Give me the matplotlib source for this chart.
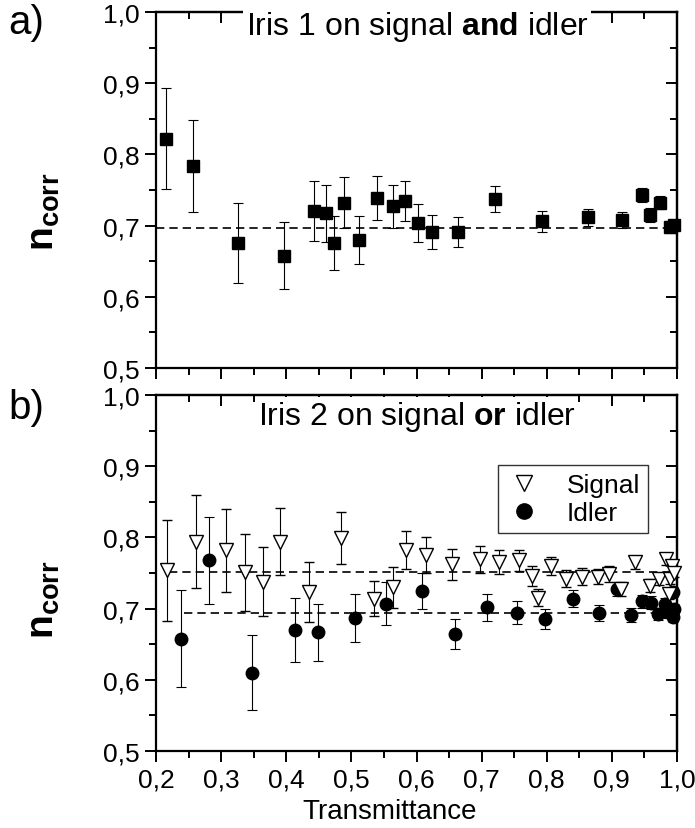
import matplotlib
matplotlib.use("Agg")
import matplotlib.pyplot as plt
from matplotlib.ticker import MultipleLocator, FuncFormatter
from matplotlib.lines import Line2D

plt.rcParams['font.family'] = ['Liberation Sans', 'DejaVu Sans']
plt.rcParams['mathtext.fontset'] = 'custom'
plt.rcParams['mathtext.rm'] = 'Liberation Sans'
plt.rcParams['mathtext.bf'] = 'Liberation Sans:bold'

# ---- a) iris 1 on signal and idler ----
T_a = [0.215, 0.257, 0.326, 0.397, 0.442, 0.461, 0.474, 0.488, 0.511, 0.540, 0.564, 0.582,
       0.602, 0.624, 0.663, 0.720, 0.793, 0.863, 0.916, 0.946, 0.959, 0.974, 0.990, 0.996]
n_a = [0.822, 0.784, 0.676, 0.658, 0.720, 0.717, 0.675, 0.732, 0.680, 0.739, 0.727, 0.734,
       0.704, 0.691, 0.691, 0.737, 0.706, 0.712, 0.708, 0.743, 0.715, 0.732, 0.698, 0.701]
err_a = [0.071, 0.065, 0.056, 0.047, 0.042, 0.040, 0.038, 0.036, 0.034, 0.031, 0.030, 0.028,
         0.027, 0.024, 0.021, 0.018, 0.015, 0.012, 0.011, 0.010, 0.010, 0.009, 0.008, 0.007]
fit_a = [0.2, 1.0, 0.696]   # x start, x end, level

# ---- b) iris 2 on signal or idler ----
T_s = [0.217, 0.261, 0.308, 0.337, 0.365, 0.391, 0.435, 0.484, 0.535, 0.564, 0.584, 0.615,
       0.655, 0.697, 0.727, 0.758, 0.778, 0.786, 0.806, 0.830, 0.854, 0.878, 0.896, 0.914,
       0.936, 0.958, 0.973, 0.983, 0.987, 0.989, 0.992, 0.995]
n_s = [0.754, 0.794, 0.782, 0.751, 0.738, 0.794, 0.723, 0.799, 0.714, 0.730, 0.782, 0.775,
       0.762, 0.769, 0.765, 0.768, 0.746, 0.715, 0.760, 0.742, 0.745, 0.745, 0.749, 0.727,
       0.765, 0.732, 0.741, 0.769, 0.721, 0.742, 0.760, 0.750]
err_s = [0.071, 0.065, 0.058, 0.054, 0.049, 0.047, 0.042, 0.037, 0.025, 0.029, 0.027, 0.025,
         0.022, 0.019, 0.017, 0.015, 0.014, 0.012, 0.013, 0.012, 0.012, 0.011, 0.011, 0.010,
         0.009, 0.009, 0.008, 0.008, 0.008, 0.007, 0.007, 0.006]
T_i = [0.239, 0.282, 0.347, 0.414, 0.449, 0.505, 0.553, 0.608, 0.659, 0.708, 0.755, 0.797,
       0.841, 0.880, 0.908, 0.930, 0.946, 0.960, 0.971, 0.982, 0.986, 0.994, 0.994, 0.996]
n_i = [0.658, 0.768, 0.610, 0.670, 0.667, 0.687, 0.707, 0.725, 0.664, 0.702, 0.694, 0.685,
       0.714, 0.694, 0.727, 0.691, 0.710, 0.708, 0.692, 0.707, 0.695, 0.723, 0.688, 0.700]
err_i = [0.068, 0.061, 0.053, 0.045, 0.040, 0.034, 0.030, 0.025, 0.021, 0.019, 0.016, 0.014,
         0.012, 0.011, 0.010, 0.010, 0.009, 0.009, 0.008, 0.008, 0.008, 0.007, 0.007, 0.007]
fit_s = [0.22, 1.0, 0.752]
fit_i = [0.243, 1.0, 0.694]

comma = FuncFormatter(lambda v, p: ('%.1f' % v).replace('.', ','))


def set_ax(ax, xlabels):
    ax.set_xlim(0.2, 1.0)
    ax.set_ylim(0.5, 1.0)
    for s in ax.spines.values():
        s.set_linewidth(1.6)
    ax.xaxis.set_major_locator(MultipleLocator(0.1))
    ax.xaxis.set_minor_locator(MultipleLocator(0.05))
    ax.yaxis.set_major_locator(MultipleLocator(0.1))
    ax.yaxis.set_minor_locator(MultipleLocator(0.05))
    ax.xaxis.set_major_formatter(comma)
    ax.yaxis.set_major_formatter(comma)
    ax.tick_params(which='major', direction='out', length=8, width=1.4, labelsize=19, pad=4)
    ax.tick_params(which='minor', direction='out', length=5, width=1.4)
    ax.tick_params(axis='x', labelbottom=xlabels)
    # ticks pointing inwards on top and right
    top = ax.secondary_xaxis('top')
    top.xaxis.set_major_locator(MultipleLocator(0.1))
    top.xaxis.set_minor_locator(MultipleLocator(0.05))
    top.tick_params(which='major', direction='in', length=8, width=1.4, labeltop=False)
    top.tick_params(which='minor', direction='in', length=5, width=1.4)
    top.spines['top'].set_linewidth(1.6)
    right = ax.secondary_yaxis('right')
    right.yaxis.set_major_locator(MultipleLocator(0.1))
    right.yaxis.set_minor_locator(MultipleLocator(0.05))
    right.tick_params(which='major', direction='in', length=8, width=1.4, labelright=False)
    right.tick_params(which='minor', direction='in', length=5, width=1.4)
    right.spines['right'].set_linewidth(1.6)


eb = dict(ecolor='k', elinewidth=0.8, capsize=3.5, capthick=0.8, clip_on=False)

fig = plt.figure(figsize=(6.95, 8.29), dpi=100)
ax1 = fig.add_axes([156/695, 1-369/829, 521/695, 356/829])
ax2 = fig.add_axes([156/695, 1-752/829, 521/695, 356/829])

# panel a
ax1.plot(fit_a[:2], [fit_a[2]]*2, color='k', lw=1.2, ls=(0, (5, 3)))
ax1.errorbar(T_a, n_a, yerr=err_a, fmt='s', ms=9, mfc='k', mec='k', zorder=3, **eb)
set_ax(ax1, False)

# panel b
ax2.plot(fit_s[:2], [fit_s[2]]*2, color='k', lw=1.2, ls=(0, (5, 3)))
ax2.plot(fit_i[:2], [fit_i[2]]*2, color='k', lw=1.2, ls=(0, (5, 3)))
ax2.errorbar(T_i, n_i, yerr=err_i, fmt='o', ms=9, mfc='k', mec='k', zorder=3, **eb)
ax2.errorbar(T_s, n_s, yerr=err_s, fmt='v', ms=10.5, mfc='white', mec='k', mew=1.0, zorder=4, **eb)
set_ax(ax2, True)

handles = [Line2D([], [], ls='none', marker='v', ms=12, mfc='white', mec='k', mew=1.0),
           Line2D([], [], ls='none', marker='o', ms=11, mfc='k', mec='k')]
leg = ax2.legend(handles, ['Signal', 'Idler'], loc='upper left', bbox_to_anchor=(0.656, 0.803),
                 borderaxespad=0, fontsize=19, fancybox=False, frameon=True,
                 handlelength=1.4, handletextpad=0.9, borderpad=0.3, labelspacing=0.15)
leg.get_frame().set_edgecolor('k')
leg.get_frame().set_linewidth(1.0)

# titles sitting on the top frame
box = dict(facecolor='white', edgecolor='none', pad=1.5)
fig.text(417/695, 1-35/829, r'Iris 1 on signal $\mathbf{and}$ idler', fontsize=23,
         ha='center', va='baseline', bbox=box, zorder=10)
fig.text(417/695, 1-425/829, r'Iris 2 on signal $\mathbf{or}$ idler', fontsize=23,
         ha='center', va='baseline', bbox=box, zorder=10)

fig.text(8/695, 1-34/829, 'a)', fontsize=29, va='baseline')
fig.text(8/695, 1-419/829, 'b)', fontsize=29, va='baseline')

ylab = r'$\mathbf{n}_{\mathbf{corr}}$'
fig.text(44/695, 1-212/829, ylab, fontsize=28, rotation=90, ha='center', va='center')
fig.text(44/695, 1-600/829, ylab, fontsize=28, rotation=90, ha='center', va='center')

fig.text(390/695, 1-812/829, 'Transmittance', fontsize=20, ha='center', va='center')

fig.savefig('out.png', dpi=100)
